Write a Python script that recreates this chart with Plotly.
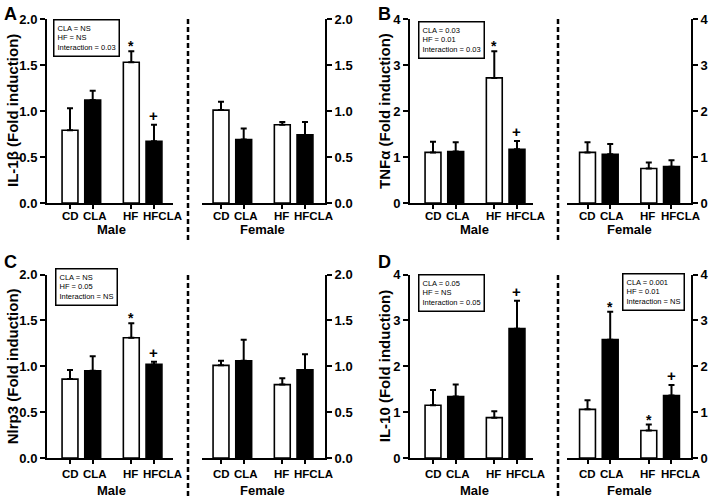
import plotly.graph_objects as go

W, H = 709, 497

# ---------------- data ----------------
groups = ["CD", "CLA", "HF", "HFCLA"]
bar_colors = ["white", "black", "white", "black"]

il1b_male = [0.79, 1.12, 1.53, 0.67]
il1b_male_sem = [0.24, 0.10, 0.12, 0.18]
il1b_female = [1.01, 0.69, 0.85, 0.74]
il1b_female_sem = [0.09, 0.12, 0.03, 0.14]

tnfa_male = [1.10, 1.12, 2.72, 1.17]
tnfa_male_sem = [0.23, 0.20, 0.58, 0.18]
tnfa_female = [1.10, 1.06, 0.75, 0.79]
tnfa_female_sem = [0.22, 0.22, 0.13, 0.14]

nlrp3_male = [0.86, 0.95, 1.31, 1.02]
nlrp3_male_sem = [0.10, 0.16, 0.16, 0.03]
nlrp3_female = [1.01, 1.06, 0.80, 0.96]
nlrp3_female_sem = [0.05, 0.23, 0.07, 0.17]

il10_male = [1.15, 1.34, 0.88, 2.82]
il10_male_sem = [0.33, 0.26, 0.14, 0.61]
il10_female = [1.06, 2.58, 0.60, 1.36]
il10_female_sem = [0.20, 0.61, 0.13, 0.23]

il1b_male_sig = ["", "", "*", "+"]
il1b_female_sig = ["", "", "", ""]
tnfa_male_sig = ["", "", "*", "+"]
tnfa_female_sig = ["", "", "", ""]
nlrp3_male_sig = ["", "", "*", "+"]
nlrp3_female_sig = ["", "", "", ""]
il10_male_sig = ["", "", "", "+"]
il10_female_sig = ["", "*", "*", "+"]

il1b_stats = "CLA = NS<br>HF = NS<br>Interaction = 0.03"
tnfa_stats = "CLA = 0.03<br>HF = 0.01<br>Interaction = 0.03"
nlrp3_stats = "CLA = NS<br>HF = 0.05<br>Interaction = NS"
il10_male_stats = "CLA = 0.05<br>HF = NS<br>Interaction = 0.05"
il10_female_stats = "CLA = 0.001<br>HF = 0.01<br>Interaction = NS"

y_titles = ["IL-1β (Fold induction)", "TNFα (Fold induction)",
            "Nlrp3 (Fold induction)", "IL-10 (Fold induction)"]
panel_letters = ["A", "B", "C", "D"]
y_max = [2.0, 4.0, 2.0, 4.0]
y_dtick = [0.5, 1, 0.5, 1]
y_fmt = [".1f", "d", ".1f", "d"]

# ---------------- layout helpers ----------------
FONT = "Arial, Liberation Sans, sans-serif"
def px(x):
    return x / W
def py(y):
    return 1 - y / H

xpos = [0, 1, 2.7, 3.7]
S = 22.7          # pixels per x unit
label_shift = [0, 2, -1, 9]

cols = [
    dict(male=(47, 173, 70), female=(202, 325, 221), dash=188, title_x=12, letter_x=2),
    dict(male=(410, 533, 433), female=(567, 691, 587.5), dash=558, title_x=384, letter_x=376),
]
rows = [
    dict(top=19, bottom=203, lab=216, sex=229, dash=(19, 243), letter_y=2),
    dict(top=274.5, bottom=458, lab=474, sex=490, dash=(275, 497), letter_y=250),
]

panels = [
    dict(col=0, row=0, male=(il1b_male, il1b_male_sem, il1b_male_sig),
         female=(il1b_female, il1b_female_sem, il1b_female_sig),
         stats=[("male", il1b_stats, 53, 19)]),
    dict(col=1, row=0, male=(tnfa_male, tnfa_male_sem, tnfa_male_sig),
         female=(tnfa_female, tnfa_female_sem, tnfa_female_sig),
         stats=[("male", tnfa_stats, 418, 21)]),
    dict(col=0, row=1, male=(nlrp3_male, nlrp3_male_sem, nlrp3_male_sig),
         female=(nlrp3_female, nlrp3_female_sem, nlrp3_female_sig),
         stats=[("male", nlrp3_stats, 55, 268)]),
    dict(col=1, row=1, male=(il10_male, il10_male_sem, il10_male_sig),
         female=(il10_female, il10_female_sem, il10_female_sig),
         stats=[("male", il10_male_stats, 418, 274), ("female", il10_female_stats, 622, 273)]),
]

fig = go.Figure()
annotations = []
shapes = []
layout_axes = {}

idx = 0
for p, pan in enumerate(panels):
    c = cols[pan["col"]]
    r = rows[pan["row"]]
    ydom = [py(r["bottom"]), py(r["top"])]
    for sex in ["male", "female"]:
        idx += 1
        xa = "x" if idx == 1 else f"x{idx}"
        ya = "y" if idx == 1 else f"y{idx}"
        left, right, c0 = c[sex]
        vals, sems, sigs = pan[sex]
        fig.add_trace(go.Bar(
            x=xpos, y=vals, width=0.7, xaxis=xa, yaxis=ya,
            marker=dict(color=bar_colors, line=dict(color="black", width=1.6)),
            error_y=dict(type="data", array=sems, arrayminus=[0] * 4, symmetric=False,
                         color="black", thickness=2, width=3),
            hoverinfo="skip", showlegend=False,
        ))
        layout_axes["xaxis" + ("" if idx == 1 else str(idx))] = dict(
            domain=[px(left), px(right)], anchor=ya, automargin=False,
            range=[(left - c0) / S, (right - c0) / S],
            showgrid=False, zeroline=False, showline=True, linecolor="black", linewidth=2,
            tickvals=xpos, showticklabels=False, ticks="outside", ticklen=4,
            tickwidth=2, tickcolor="black", fixedrange=True,
        )
        layout_axes["yaxis" + ("" if idx == 1 else str(idx))] = dict(
            domain=ydom, anchor=xa, side="left" if sex == "male" else "right",
            automargin=False, fixedrange=True,
            range=[0, y_max[p]], dtick=y_dtick[p], tick0=0, tickformat=y_fmt[p],
            showgrid=False, zeroline=False, showline=True, linecolor="black", linewidth=2,
            ticks="outside", ticklen=5, tickwidth=2, tickcolor="black",
            tickfont=dict(family=FONT, size=13, color="black", weight="bold"),
        )
        # category labels
        for j, g in enumerate(groups):
            annotations.append(dict(
                x=xpos[j], xref=xa, y=py(r["lab"]), yref="paper", text=g,
                showarrow=False, xanchor="center", yanchor="middle", xshift=label_shift[j],
                font=dict(family=FONT, size=11.5, color="black", weight="bold")))
            if sigs[j]:
                annotations.append(dict(
                    x=xpos[j], xref=xa, y=vals[j] + sems[j], yref=ya, text=sigs[j],
                    showarrow=False, xanchor="center", yanchor="bottom",
                    yshift=-5 if sigs[j] == "*" else -1,
                    font=dict(family=FONT, size=14 if sigs[j] == "*" else 15,
                              color="black", weight="bold")))
        annotations.append(dict(
            x=px((c0 + c0 + 3.7 * S) / 2), xref="paper", y=py(r["sex"]), yref="paper",
            text="Male" if sex == "male" else "Female", showarrow=False,
            xanchor="center", yanchor="middle",
            font=dict(family=FONT, size=13, color="black", weight="bold")))
    # stats boxes
    for sex, txt, bx, by in pan["stats"]:
        annotations.append(dict(
            x=px(bx), y=py(by), xref="paper", yref="paper", text=txt, align="left",
            showarrow=False, xanchor="left", yanchor="top",
            bordercolor="black", borderwidth=1.5, borderpad=3, bgcolor="white",
            font=dict(family=FONT, size=7.5, color="black")))
    # y title
    annotations.append(dict(
        x=px(c["title_x"]), y=(ydom[0] + ydom[1]) / 2, xref="paper", yref="paper",
        text=y_titles[p], textangle=-90, showarrow=False, xanchor="center", yanchor="middle",
        font=dict(family=FONT, size=15, color="black", weight="bold")))
    # panel letter
    annotations.append(dict(
        x=px(c["letter_x"]), y=py(r["letter_y"]), xref="paper", yref="paper",
        text=panel_letters[p], showarrow=False, xanchor="left", yanchor="top",
        font=dict(family=FONT, size=18, color="black", weight="bold")))
    # dashed separator
    shapes.append(dict(
        type="line", xref="paper", yref="paper",
        x0=px(c["dash"]), x1=px(c["dash"]), y0=py(r["dash"][0]), y1=py(r["dash"][1]),
        line=dict(color="black", width=2.5, dash="5px,3px")))

fig.update_layout(
    width=W, height=H, margin=dict(l=0, r=0, t=0, b=0, pad=0),
    plot_bgcolor="white", paper_bgcolor="white", showlegend=False,
    annotations=annotations, shapes=shapes, barmode="overlay",
    font=dict(family=FONT, color="black"),
    **layout_axes,
)

fig.write_html("out.html", config={"displayModeBar": False},
               post_script="document.body.style.margin='0';document.body.style.overflow='hidden';")
